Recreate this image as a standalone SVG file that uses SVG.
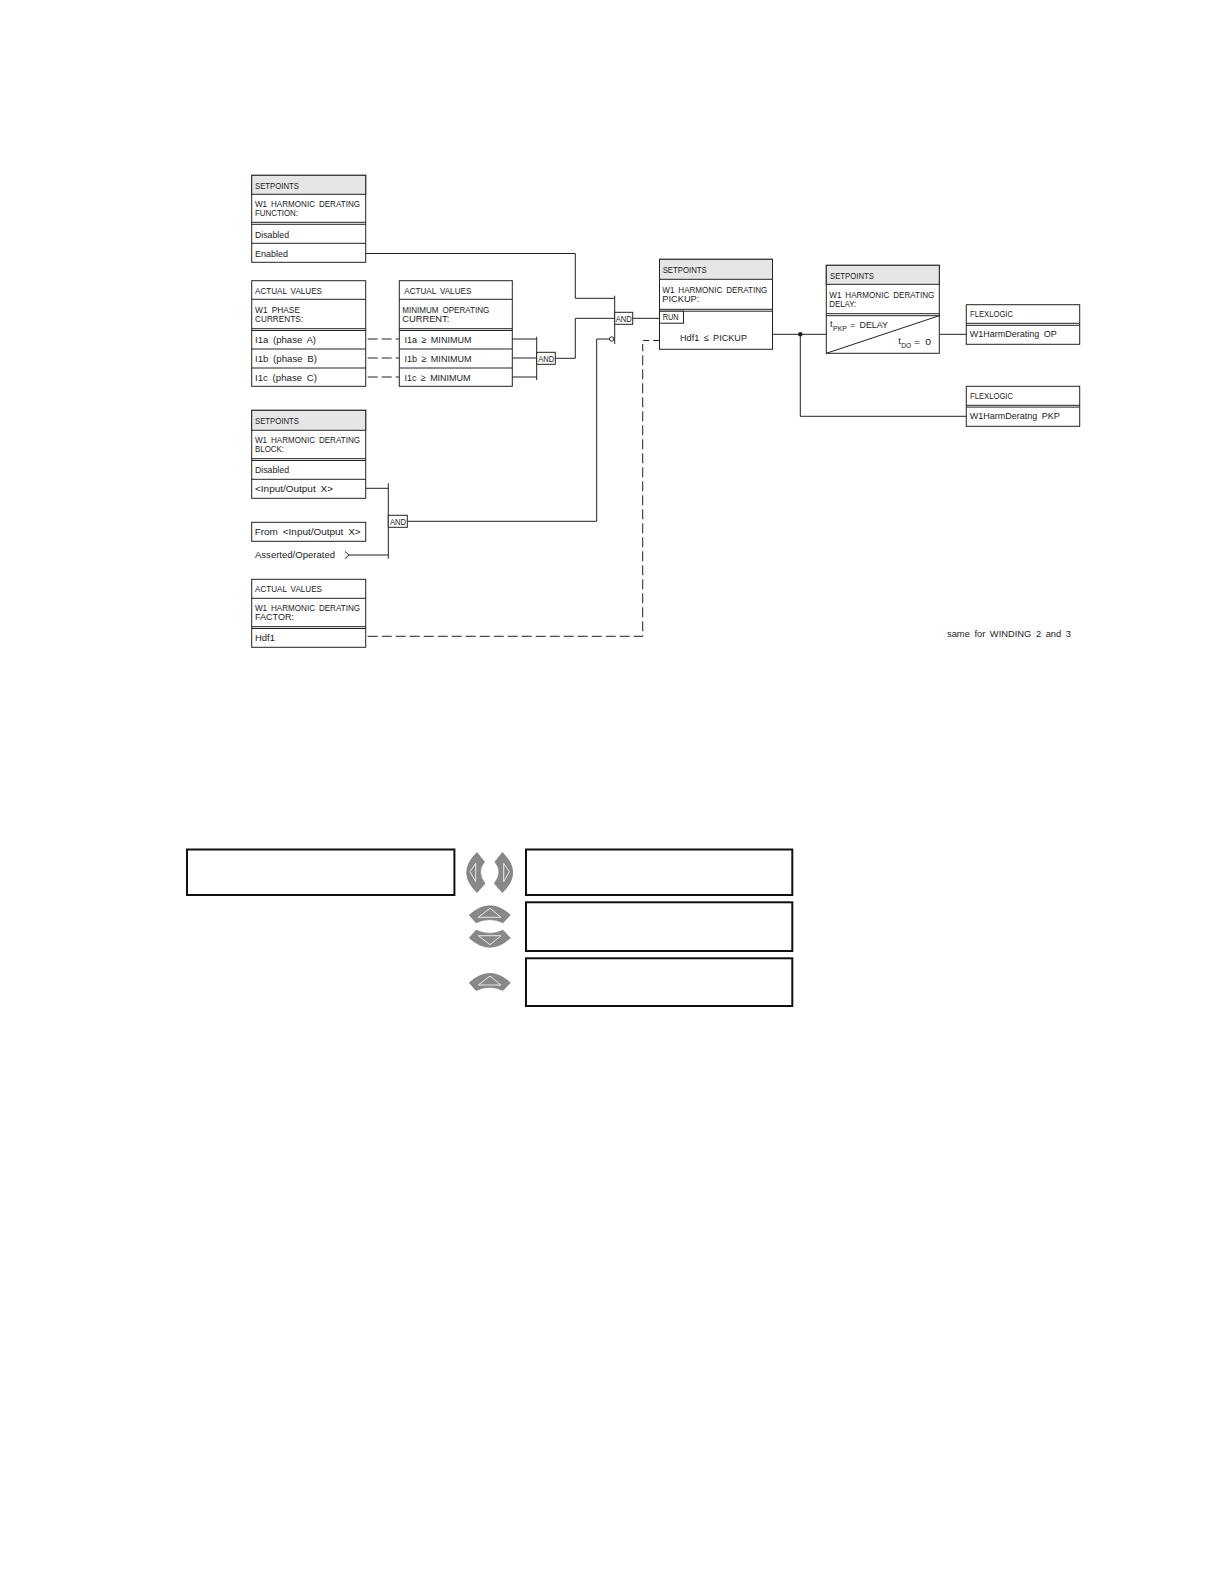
<svg xmlns="http://www.w3.org/2000/svg" xmlns:xlink="http://www.w3.org/1999/xlink" width="1224" height="1584" viewBox="0 0 1224 1584">
<defs>
<g id="btn-left"><path class="btn" d="M477 852.5L484.5 862Q476 871.5 485 883.5L477 892.5Q456.4 872.5 477 852.5Z"/><path class="tri" d="M475.7 863.3L470 871.7L475.7 881.7Z"/></g>
<g id="btn-up"><path class="btn" d="M469.3 915Q490 896.5 510.3 915L503 922.7Q490 916.5 476 922.7Z"/><path class="tri" d="M490 908.3L501 917.3H478.3Z"/></g>
</defs>
<style>
rect,.l{fill:none;stroke:#222;stroke-width:1}
rect{fill:#fff}
rect.h{fill:#e6e6e6}
rect.big{stroke:#111;stroke-width:2}
.d{fill:none;stroke:#222;stroke-width:1;stroke-dasharray:10 4}
.d2{fill:none;stroke:#222;stroke-width:1;stroke-dasharray:6 4}
text{font-family:"Liberation Sans",Arial,sans-serif;font-size:9.5px;fill:#222;word-spacing:2px}
text.s{font-size:7px}
.btn{fill:#888;stroke:#777;stroke-width:.7}
.tri{fill:none;stroke:#e8e8e8;stroke-width:1}
</style>
<g id="connectors">
<path class="l" d="M365.7 253.5H575.3V298.3H614.7"/>
<path class="l" d="M555.3 358.3H575.3V318.3H614.7"/>
<path class="l" d="M614.7 295.7V344"/>
<path class="l" d="M632.7 318.3H659.5"/>
<path class="l" d="M407.3 521.3H596.7V339H609.5"/>
<circle class="l" cx="611.7" cy="339" r="2.2"/>
<path class="d" d="M367.7 339H399.3M367.7 358H399.3M367.7 377H399.3"/>
<path class="l" d="M512.3 339H536.7M512.3 358H536.7M512.3 377H536.7M536.7 336.7V380"/>
<path class="l" d="M365.7 488.3H388.3M349 555H388.3M388.3 483.3V558.7"/>
<path class="l" d="M345 551.5L349 555L345 558.5"/>
<path class="d" d="M367.7 636.3H642.7V350"/>
<path class="d2" d="M642.7 350V340.5H659"/>
<path class="l" d="M772.5 334.3H826.3M939.3 334.3H966.3M800.3 334.3V416.3H966.3"/>
<circle cx="800.3" cy="334.3" r="2.3" fill="#222"/>
</g>
<g id="setpoints-function">
<rect x="251.7" y="175.3" width="114" height="87"/><rect class="h" x="251.7" y="175.3" width="114" height="19"/>
<path class="l" d="M251.7 222.3H365.7M251.7 224.3H365.7M251.7 243.3H365.7"/>
<text x="255" y="188.7" textLength="44" lengthAdjust="spacingAndGlyphs">SETPOINTS</text>
<text x="255" y="207.3" textLength="105" lengthAdjust="spacingAndGlyphs">W1 HARMONIC DERATING</text>
<text x="255" y="216.3" textLength="43" lengthAdjust="spacingAndGlyphs">FUNCTION:</text>
<text x="255" y="237.7" textLength="34" lengthAdjust="spacingAndGlyphs">Disabled</text>
<text x="255" y="256.7" textLength="33" lengthAdjust="spacingAndGlyphs">Enabled</text>
</g>
<g id="actual-phase">
<rect x="251.7" y="280.7" width="114" height="105.6"/>
<path class="l" d="M251.7 299.3H365.7M251.7 328.7H365.7M251.7 330.5H365.7M251.7 349H365.7M251.7 368H365.7"/>
<text x="255" y="293.7" textLength="67" lengthAdjust="spacingAndGlyphs">ACTUAL VALUES</text>
<text x="255" y="312.7" textLength="45" lengthAdjust="spacingAndGlyphs">W1 PHASE</text>
<text x="255" y="321.7" textLength="48" lengthAdjust="spacingAndGlyphs">CURRENTS:</text>
<text x="255" y="343" textLength="61" lengthAdjust="spacingAndGlyphs">I1a (phase A)</text>
<text x="255" y="362" textLength="62" lengthAdjust="spacingAndGlyphs">I1b (phase B)</text>
<text x="255" y="380.7" textLength="62" lengthAdjust="spacingAndGlyphs">I1c (phase C)</text>
</g>
<g id="actual-minimum">
<rect x="399.3" y="280.7" width="113" height="105.6"/>
<path class="l" d="M399.3 299.3H512.3M399.3 328.7H512.3M399.3 330.5H512.3M399.3 349H512.3M399.3 368H512.3"/>
<text x="404.3" y="293.7" textLength="67" lengthAdjust="spacingAndGlyphs">ACTUAL VALUES</text>
<text x="402.3" y="312.7" textLength="87" lengthAdjust="spacingAndGlyphs">MINIMUM OPERATING</text>
<text x="402.3" y="321.7" textLength="47" lengthAdjust="spacingAndGlyphs">CURRENT:</text>
<text x="404.5" y="343" textLength="67" lengthAdjust="spacingAndGlyphs">I1a ≥ MINIMUM</text>
<text x="404.5" y="362" textLength="67" lengthAdjust="spacingAndGlyphs">I1b ≥ MINIMUM</text>
<text x="404.5" y="380.7" textLength="66" lengthAdjust="spacingAndGlyphs">I1c ≥ MINIMUM</text>
</g>
<g id="and-minimum"><rect x="536.7" y="352.3" width="18.6" height="12"/><text x="538.3" y="361.7" textLength="16" lengthAdjust="spacingAndGlyphs">AND</text></g>
<g id="and-main"><rect x="614.7" y="312.3" width="18" height="12"/><text x="615.7" y="321.7" textLength="16" lengthAdjust="spacingAndGlyphs">AND</text></g>
<g id="setpoints-block">
<rect x="251.7" y="410.3" width="114" height="88"/><rect class="h" x="251.7" y="410.3" width="114" height="20"/>
<path class="l" d="M251.7 458.7H365.7M251.7 460.5H365.7M251.7 479.3H365.7"/>
<text x="255" y="424.3" textLength="44" lengthAdjust="spacingAndGlyphs">SETPOINTS</text>
<text x="255" y="443" textLength="105" lengthAdjust="spacingAndGlyphs">W1 HARMONIC DERATING</text>
<text x="255" y="452" textLength="29" lengthAdjust="spacingAndGlyphs">BLOCK:</text>
<text x="255" y="473.3" textLength="34" lengthAdjust="spacingAndGlyphs">Disabled</text>
<text x="255" y="492.3" textLength="78" lengthAdjust="spacingAndGlyphs">&lt;Input/Output X&gt;</text>
</g>
<g id="from-input"><rect x="251.7" y="522.3" width="114" height="19"/><text x="254.7" y="535" textLength="106" lengthAdjust="spacingAndGlyphs">From &lt;Input/Output X&gt;</text></g>
<g id="asserted"><text x="255" y="558.3" textLength="80" lengthAdjust="spacingAndGlyphs">Asserted/Operated</text></g>
<g id="and-block"><rect x="388.3" y="515.3" width="19" height="12"/><text x="390" y="524.7" textLength="16" lengthAdjust="spacingAndGlyphs">AND</text></g>
<g id="actual-factor">
<rect x="251.7" y="579.3" width="114" height="68"/>
<path class="l" d="M251.7 598.3H365.7M251.7 626.7H365.7M251.7 628.5H365.7"/>
<text x="255" y="592" textLength="67" lengthAdjust="spacingAndGlyphs">ACTUAL VALUES</text>
<text x="255" y="610.7" textLength="105" lengthAdjust="spacingAndGlyphs">W1 HARMONIC DERATING</text>
<text x="255" y="619.7" textLength="39" lengthAdjust="spacingAndGlyphs">FACTOR:</text>
<text x="255" y="640.7" textLength="20" lengthAdjust="spacingAndGlyphs">Hdf1</text>
</g>
<g id="setpoints-pickup">
<rect x="659.5" y="259.3" width="113" height="90"/><rect class="h" x="659.5" y="259.3" width="113" height="20"/>
<path class="l" d="M659.5 309.3H772.5M659.5 311.2H772.5"/>
<rect x="659.5" y="311.2" width="24" height="12"/>
<text x="662.7" y="273.3" textLength="44" lengthAdjust="spacingAndGlyphs">SETPOINTS</text>
<text x="662.3" y="293.3" textLength="105" lengthAdjust="spacingAndGlyphs">W1 HARMONIC DERATING</text>
<text x="662.3" y="302.3" textLength="37" lengthAdjust="spacingAndGlyphs">PICKUP:</text>
<text x="662.7" y="320.3" textLength="16" lengthAdjust="spacingAndGlyphs">RUN</text>
<text x="680" y="341" textLength="67" lengthAdjust="spacingAndGlyphs">Hdf1 ≤ PICKUP</text>
</g>
<g id="setpoints-delay">
<rect x="826.3" y="265.3" width="113" height="88"/><rect class="h" x="826.3" y="265.3" width="113" height="19"/>
<path class="l" d="M826.3 313.7H939.3M826.3 315.7H939.3M826.3 353.3L939.3 315.7"/>
<text x="830" y="278.7" textLength="44" lengthAdjust="spacingAndGlyphs">SETPOINTS</text>
<text x="829.3" y="298" textLength="105" lengthAdjust="spacingAndGlyphs">W1 HARMONIC DERATING</text>
<text x="829.3" y="307.3" textLength="27" lengthAdjust="spacingAndGlyphs">DELAY:</text>
<text x="830" y="327">t</text><text class="s" x="833" y="330.5" textLength="14" lengthAdjust="spacingAndGlyphs">PKP</text>
<text x="850" y="328" textLength="38" lengthAdjust="spacingAndGlyphs">= DELAY</text>
<text x="898.3" y="344.3">t</text><text class="s" x="901.3" y="348" textLength="10" lengthAdjust="spacingAndGlyphs">DO</text>
<text x="914" y="345" textLength="17" lengthAdjust="spacingAndGlyphs">= 0</text>
</g>
<g id="flexlogic-op">
<rect x="966.3" y="304.7" width="113.4" height="39.6"/>
<path class="l" d="M966.3 323.3H1079.7M966.3 325.3H1079.7"/>
<text x="970" y="316.7" textLength="43" lengthAdjust="spacingAndGlyphs">FLEXLOGIC</text>
<text x="969.7" y="337.3" textLength="87" lengthAdjust="spacingAndGlyphs">W1HarmDerating OP</text>
</g>
<g id="flexlogic-pkp">
<rect x="966.3" y="386.3" width="113.4" height="40"/>
<path class="l" d="M966.3 405.3H1079.7M966.3 407.1H1079.7"/>
<text x="970" y="398.7" textLength="43" lengthAdjust="spacingAndGlyphs">FLEXLOGIC</text>
<text x="969.7" y="419.3" textLength="90" lengthAdjust="spacingAndGlyphs">W1HarmDeratng PKP</text>
</g>
<g id="note"><text x="947" y="637" textLength="124" lengthAdjust="spacingAndGlyphs">same for WINDING 2 and 3</text></g>
<g id="panel">
<rect class="big" x="187" y="849.5" width="267.4" height="45.5"/>
<rect class="big" x="526" y="849.5" width="266.3" height="45.5"/>
<rect class="big" x="526" y="902.3" width="266.3" height="48.7"/>
<rect class="big" x="526" y="958.3" width="266.3" height="47.7"/>
<use href="#btn-left"/>
<use href="#btn-left" transform="translate(979.4 0) scale(-1 1)"/>
<use href="#btn-up"/>
<use href="#btn-up" transform="translate(0 1853) scale(1 -1)"/>
<use href="#btn-up" transform="translate(0 67.7)"/>
</g>
</svg>
